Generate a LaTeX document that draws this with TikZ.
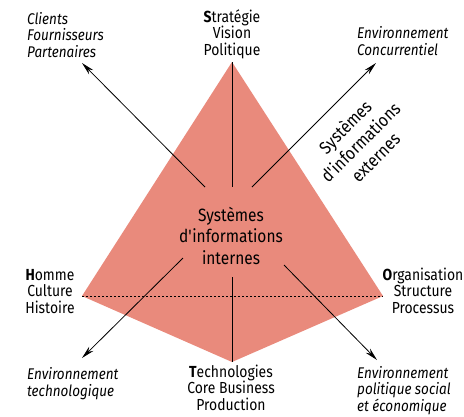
\documentclass[tikz,border=0pt]{standalone}
\usepackage{fontspec}
\setmainfont{Fira Sans}[FakeStretch=0.87]
\usetikzlibrary{arrows.meta}
\definecolor{kite}{RGB}{233,138,124}
\begin{document}
\begin{tikzpicture}[x=1pt,y=-1pt,
  lbl/.style={inner sep=0pt, align=center, font=\fontsize{16}{16.3}\selectfont},
  env/.style={inner sep=0pt, align=left, font=\fontsize{15.5}{16.3}\selectfont\itshape},
  big/.style={inner sep=0pt, align=center, font=\fontsize{17.8}{21.5}\selectfont},
  axis/.style={line width=0.8pt},
  ray/.style={line width=0.8pt, -{Stealth[length=13pt,width=6pt]}},
]
\useasboundingbox (0,0) rectangle (464,416);

% kite corners
\coordinate (T) at (232,62);
\coordinate (L) at (82,296);
\coordinate (B) at (232,362);
\coordinate (R) at (383,296);

\fill[kite] (T) -- (L) -- (B) -- (R) -- cycle;
\draw[dash pattern=on 2pt off 2pt, line width=0.8pt] (L) -- (R);

% centre label (anchored on the baseline of its last line)
\node[big, anchor=base] (core) at (231,264) {Systèmes\\d\textquotesingle informations\\internes};

% vertical axis, interrupted by the centre label
\coordinate (ctop) at (232,187);
\coordinate (cbot) at (232,277);
\draw[axis] (T) -- (ctop);
\draw[axis] (cbot) -- (B);

% rays towards the environments
\coordinate (ul0) at (205,187);
\coordinate (ur0) at (252,187);
\coordinate (ll0) at (183,258);
\coordinate (lr0) at (284,265);
\coordinate (ul) at (82,63);
\coordinate (ur) at (376,63);
\coordinate (ll) at (82,358);
\coordinate (lr) at (377,360);
\draw[ray] (ul0) -- (ul);
\draw[ray] (ur0) -- (ur);
\draw[ray] (ll0) -- (ll);
\draw[ray] (lr0) -- (lr);

% corner labels
\node[lbl, anchor=base] (strat) at (232,55) {\textbf{S}tratégie\\Vision\\Politique};
\node[lbl, anchor=base] (homme) at (50,313) {\textbf{H}omme\\Culture\\Histoire};
\node[lbl, anchor=base] (orga) at (423,313) {\textbf{O}rganisation\\Structure\\Processus};
\node[lbl, anchor=base] (techno) at (231,410) {\textbf{T}echnologies\\Core Business\\Production};

% environment labels
\node[env, anchor=base west] (clients) at (27,57) {Clients\\Fournisseurs\\Partenaires};
\node[env, anchor=base west] (concur) at (357,55) {Environnement\\Concurrentiel};
\node[env, anchor=base west] (envtech) at (27,396) {Environnement\\technologique};
\node[env, anchor=base west] (envpol) at (357,411) {Environnement\\politique social\\et économique};

% external information systems
\node[big, rotate=45] (ext) at (360,142) {Systèmes\\d\textquotesingle informations\\externes};
\end{tikzpicture}
\end{document}
